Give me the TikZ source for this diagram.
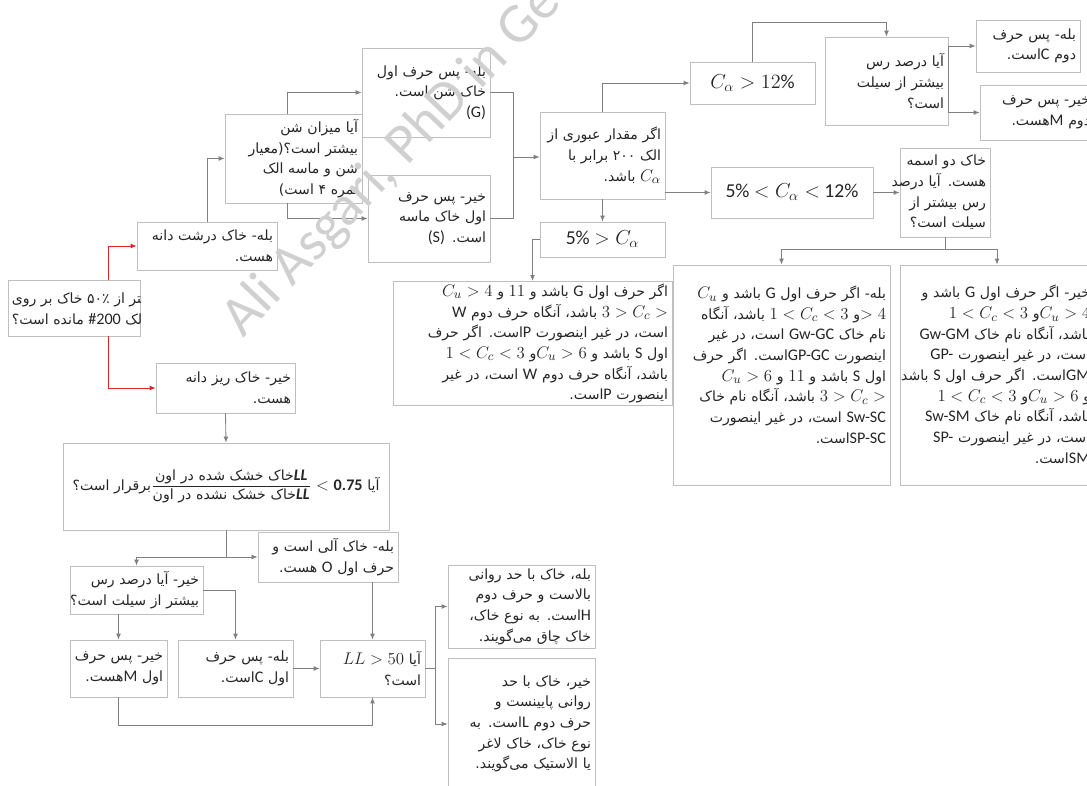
\documentclass[tikz,border=0pt]{standalone}
\usepackage{fontspec}
\setmainfont{Carlito}
\newfontfamily\fa[Script=Arabic]{DejaVu Sans}
\newfontfamily\la{Carlito}
\TeXXeTstate=1
\usetikzlibrary{arrows.meta}
\definecolor{boxline}{RGB}{191,191,191}
\definecolor{linkgray}{RGB}{128,128,128}
\definecolor{linkred}{RGB}{214,40,40}
\definecolor{inkgray}{RGB}{38,38,38}
\definecolor{markgray}{RGB}{208,208,208}
% one right-to-left line, flush right; left-to-right pieces inside it
\newcommand{\rl}[1]{\leavevmode\hbox to \hsize{\hss\beginR #1\endR}}
\newcommand{\rlc}[1]{\leavevmode\hbox{\beginR #1\endR}}
\newcommand{\lr}[1]{\hbox{\la\fontsize{11.5}{14}\selectfont #1}}
\newcommand{\mth}[1]{\hbox{\fontsize{13}{14}\selectfont$#1$}}

\begin{document}
\begin{tikzpicture}[x=0.025cm,y=-0.025cm,
  box/.style={draw=boxline,fill=white,line width=0.5pt,inner xsep=0.1cm,inner ysep=0.06cm,
    align=right,text=inkgray,font=\fa\fontsize{10}{14.7}\selectfont},
  boxtext/.style={inner xsep=0.1cm,inner ysep=0.06cm,align=right,text=inkgray,
    font=\fa\fontsize{10}{14.7}\selectfont},
  bigbox/.style={box,align=center,font=\la\fontsize{14}{16}\selectfont},
  link/.style={draw=linkgray,line width=0.6pt,-{Latex[length=1.5mm,width=1.2mm]}},
  plain/.style={draw=linkgray,line width=0.6pt},
  redlink/.style={link,draw=linkred}]
\clip (0,0) rectangle (1087,786);
\fill[white] (0,0) rectangle (1087,786);

% coarse or fine (the first box cuts its long lines)
\node[box,minimum width=3.3cm,minimum height=1.4cm] (root) at (74,308) {};
\begin{scope}
  \clip (root.south west) rectangle (root.north east);
  \node[boxtext,align=left,anchor=west] (roottext) at (root.west)
    {\rlc{آیا بیشتر از ۵۰٪ خاک بر روی}\\\rlc{الک \lr{\#200} مانده است؟}};
\end{scope}
\node[box,text width=3.3cm,minimum height=1.2cm] (coarse) at (207,246)
  {\rl{بله- خاک درشت دانه}\\\rl{هست.}};
\node[box,text width=3.275cm,minimum height=1.25cm] (fine) at (225.5,388)
  {\rl{خیر- خاک ریز دانه}\\\rl{هست.}};

% coarse branch
\node[box,text width=3.225cm,minimum height=2.225cm] (sandq) at (293.5,158.5)
  {\rl{آیا میزان شن}\\\rl{بیشتر است؟(معیار}\\\rl{شن و ماسه الک}\\\rl{نمره ۴ است)}};
\node[box,text width=3.0cm,minimum height=2.225cm] (gravel) at (426,92.5)
  {\rl{بله- پس حرف اول}\\\rl{خاک شن است.}\\\rl{\lr{(G)}}};
\node[box,text width=2.85cm,minimum height=2.175cm] (sand) at (429,218.5)
  {\rl{خیر- پس حرف}\\\rl{اول خاک ماسه}\\\rl{است. \lr{(S)}}};
\node[box,text width=2.925cm,minimum height=2.175cm] (pass) at (602.5,155.5)
  {\rl{اگر مقدار عبوری از}\\\rl{الک ۲۰۰ برابر با}\\\rl{\mth{C_\alpha} باشد.}};
\node[bigbox,minimum width=3.125cm,minimum height=1.05cm] (high) at (752.5,83)
  {$C_\alpha > 12\%$};
\node[bigbox,minimum width=4.05cm,minimum height=1.275cm] (mid) at (792,192.5)
  {5\% $< C_\alpha <$ 12\%};
\node[bigbox,minimum width=3.125cm,minimum height=0.875cm] (low) at (602.5,239.5)
  {5\% $> C_\alpha$};
\node[box,text width=2.875cm,minimum height=2.2cm] (clayq) at (886.5,81)
  {\rl{آیا درصد رس}\\\rl{بیشتر از سیلت}\\\rl{است؟}};
\node[box,text width=2.4cm,minimum height=1.3cm] (secC) at (1028,46)
  {\rl{بله- پس حرف}\\\rl{دوم \lr{C}است.}};
\node[box,text width=2.65cm,minimum height=1.375cm] (secM) at (1037,112.5)
  {\rl{خیر- پس حرف}\\\rl{دوم \lr{M}هست.}};
\node[box,text width=2.05cm,minimum height=2.225cm] (dual) at (945,192.5)
  {\rl{خاک دو اسمه}\\\rl{هست. آیا درصد}\\\rl{رس بیشتر از}\\\rl{سیلت است؟}};
\node[box,text width=5.225cm,minimum height=5.5cm] (dualyes) at (781.5,375)
  {\rl{بله- اگر حرف اول \lr{G} باشد و \mth{C_u}}\\
   \rl{\mth{> 4}و \mth{1 < C_c < 3} باشد، آنگاه}\\
   \rl{نام خاک \lr{Gw-GC} است، در غیر}\\
   \rl{اینصورت \lr{GP-GC}است. اگر حرف}\\
   \rl{اول \lr{S} باشد و \mth{11} و \mth{C_u > 6}}\\
   \rl{\mth{3 > C_c >} باشد، آنگاه نام خاک}\\
   \rl{\lr{Sw-SC} است، در غیر اینصورت}\\
   \rl{\lr{SP-SC}است.}\\\mbox{}};
\node[box,minimum width=4.85cm,minimum height=5.5cm] (dualno) at (997,375) {};
\begin{scope}
  \clip (dualno.south west) rectangle (dualno.north east);
  \node[boxtext,text width=5.5cm,anchor=north east] (dualnotext) at ([yshift=-0.45cm]dualno.north east)
  {\rl{خیر- اگر حرف اول \lr{G} باشد و}\\
   \rl{\mth{C_u > 4}و \mth{1 < C_c < 3}}\\
   \rl{باشد، آنگاه نام خاک \lr{Gw-GM}}\\
   \rl{است، در غیر اینصورت \lr{GP-}}\\
   \rl{\lr{GM}است. اگر حرف اول \lr{S} باشد}\\
   \rl{و \mth{C_u > 6}و \mth{1 < C_c < 3}}\\
   \rl{باشد، آنگاه نام خاک \lr{Sw-SM}}\\
   \rl{است، در غیر اینصورت \lr{SP-}}\\
   \rl{\lr{SM}است.}};
\end{scope}
\node[box,text width=6.775cm,minimum height=3.075cm] (clean) at (532.5,343.5)
  {\rl{اگر حرف اول \lr{G} باشد و \mth{11} و \mth{C_u > 4}}\\
   \rl{\mth{3 > C_c >} باشد، آنگاه حرف دوم \lr{W}}\\
   \rl{است، در غیر اینصورت \lr{P}است. اگر حرف}\\
   \rl{اول \lr{S} باشد و \mth{C_u > 6}و \mth{1 < C_c < 3}}\\
   \rl{باشد، آنگاه حرف دوم \lr{W} است، در غیر}\\
   \rl{اینصورت \lr{P}است.}};

% fine branch
\node[box,align=center,text width=7.95cm,minimum height=2.175cm] (organq) at (226,486.5)
  {\rlc{آیا \lr{\textbf{0.75}} \mth{<}
   \hbox{$\displaystyle\frac{\rlc{\lr{\textbf{\textit{LL}}}خاک خشک شده در اون}}{\rlc{\lr{\textbf{\textit{LL}}}خاک خشک نشده در اون}}$}برقرار است؟}};
\node[box,text width=3.3cm,minimum height=1.25cm] (organ) at (328,557)
  {\rl{بله- خاک آلی است و}\\\rl{حرف اول \lr{O} هست.}};
\node[box,text width=3.125cm,minimum height=1.2cm] (siltq) at (136.5,590)
  {\rl{خیر- آیا درصد رس}\\\rl{بیشتر از سیلت است؟}};
\node[box,text width=2.225cm,minimum height=1.425cm] (firstM) at (118.5,668.5)
  {\rl{خیر- پس حرف}\\\rl{اول \lr{M}هست.}};
\node[box,text width=2.675cm,minimum height=1.425cm] (firstC) at (235.5,668.5)
  {\rl{بله- پس حرف}\\\rl{اول \lr{C}است.}};
\node[box,text width=2.425cm,minimum height=1.425cm] (llq) at (372.5,668.5)
  {\rl{آیا \mth{LL > 50}}\\\rl{است؟}};
\node[box,text width=3.475cm,minimum height=2.075cm] (fat) at (521.5,606.5)
  {\rl{بله، خاک با حد روانی}\\\rl{بالاست و حرف دوم}\\\rl{\lr{H}است. به نوع خاک،}\\\rl{خاک چاق می‌گویند.}};
\node[box,text width=3.475cm,minimum height=3.3cm] (lean) at (521.5,724)
  {\rl{خیر، خاک با حد}\\\rl{روانی پایینست و}\\\rl{حرف دوم \lr{L}است. به}\\\rl{نوع خاک، خاک لاغر}\\\rl{یا الاستیک می‌گویند.}};

% connectors
\draw[redlink] ([xshift=0.85cm]root.north) |- (coarse.west);
\draw[redlink] ([xshift=0.85cm]root.south) |- (fine.west);
\draw[link] (coarse.north) |- (sandq.west);
\draw[link] ([xshift=-0.14cm]sandq.north) |- (gravel.west);
\draw[link] ([xshift=-0.14cm]sandq.south) |- (sand.west);
\coordinate (gs) at (513,157);
\draw[plain] (gravel.east) -| (gs);
\draw[plain] (sand.east) -| (gs);
\draw[link] (gs) -- (gs -| pass.west);
\draw[link] (pass.north) |- (high.west);
\draw[link] (pass.east |- mid.west) -- (mid.west);
\draw[link] (pass.south) -- (low.north);
\draw[link] (low.west) -| (clean.north);
\draw[link] (high.north) -- ++(0,-39) -| (clayq.north);
\draw[plain] (clayq.east |- secC.west) -- (clayq.east |- secM.west);
\draw[link] (clayq.east |- secC.west) -- (secC.west);
\draw[link] (clayq.east |- secM.west) -- (secM.west);
\draw[link] (mid.east) -- (dual.west);
\coordinate (dd) at ([yshift=-0.3cm]dual.south);
\draw[plain] (dual.south) -- (dd);
\draw[link] (dd) -| (dualyes.north);
\draw[link] (dd) -| (dualno.north);
\draw[link] (fine.south) -- (organq.north);
\coordinate (oq) at (226,557);
\draw[plain] (organq.south) -- (oq);
\draw[link] (oq) -| (siltq.north);
\draw[link] (oq) -- (organ.west);
\draw[link] (siltq.south -| firstM.north) -- (firstM.north);
\draw[link] (siltq.east) -| (firstC.north);
\draw[link] (firstC.east) -- (llq.west);
\draw[link] (organ.south -| llq.north) -- (llq.north);
\draw[link] (firstM.south) -- ++(0,28) -| (llq.south);
\coordinate (lf) at (435,668.5);
\draw[plain] (llq.east) -- (lf);
\draw[link] (lf) |- (fat.west);
\draw[link] (lf) |- (lean.west);

% watermark
\node[rotate=46.3,anchor=base west,text=markgray,font=\la\fontsize{40}{40}\selectfont] (mark)
  at (240,342) {Ali Asgari, PhD in Geo};
\end{tikzpicture}
\end{document}
